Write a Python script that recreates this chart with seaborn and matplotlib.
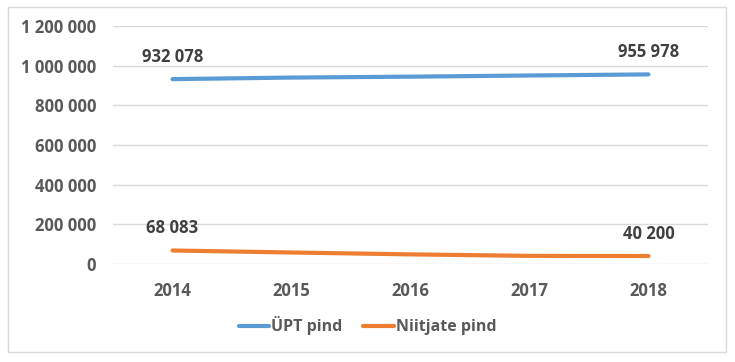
import pandas as pd
import matplotlib.pyplot as plt
import matplotlib.ticker as mticker
from matplotlib.patches import Rectangle
import seaborn as sns

aastad = [2014, 2015, 2016, 2017, 2018]
upt_pind = [932078, 940000, 944500, 950500, 955978]
niitjate_pind = [68083, 58000, 48500, 41000, 40200]
seeriad = ['ÜPT pind', 'Niitjate pind']
varvid = ['#5B9BD5', '#ED7D31']

df = pd.DataFrame({
    'aasta': [str(a) for a in aastad] * 2,
    'pind': upt_pind + niitjate_pind,
    'seeria': [seeriad[0]] * len(aastad) + [seeriad[1]] * len(aastad),
})

sns.set_style('white')
plt.rcParams['font.family'] = ['Open Sans', 'DejaVu Sans']
tekst = '#595959'

fig = plt.figure(figsize=(7.35, 3.62), dpi=100)
fig.patches.append(Rectangle((8 / 735, 1 - 352 / 362), 718 / 735, 345 / 362,
                             transform=fig.transFigure, fill=False,
                             edgecolor='#d9d9d9', linewidth=1))
ax = fig.add_axes([113 / 735, 1 - 264 / 362, 595 / 735, 238 / 362])

sns.lineplot(data=df, x='aasta', y='pind', hue='seeria', palette=varvid,
             linewidth=3, ax=ax, sort=False, legend=True)

ax.set_ylim(0, 1200000)
ax.set_xlim(-0.5, 4.5)
ax.yaxis.set_major_locator(mticker.MultipleLocator(200000))
ax.yaxis.set_major_formatter(mticker.FuncFormatter(lambda v, p: f'{int(v):,}'.replace(',', ' ')))
ax.grid(axis='y', color='#d9d9d9', linewidth=1)
ax.set_axisbelow(True)
for s in ax.spines.values():
    s.set_visible(False)
ax.tick_params(axis='both', length=0, labelsize=12, labelcolor=tekst)
ax.tick_params(axis='x', pad=13)
ax.tick_params(axis='y', pad=12)
for lab in ax.get_xticklabels() + ax.get_yticklabels():
    lab.set_fontweight('bold')
ax.set_xlabel('')
ax.set_ylabel('')

for vals in (upt_pind, niitjate_pind):
    for i in (0, len(aastad) - 1):
        ax.annotate(f'{vals[i]:,}'.replace(',', ' '), (i, vals[i]), xytext=(0, 16),
                    textcoords='offset points', ha='center', va='center',
                    fontsize=12, fontweight='bold', color='#404040')

ax.legend(loc='center', bbox_to_anchor=(0.5, 1 - 326 / 362), bbox_transform=fig.transFigure,
          ncol=2, frameon=False, handlelength=1.9, handletextpad=0.15, columnspacing=1.3,
          prop={'size': 11.5, 'weight': 'bold'}, labelcolor=tekst)

fig.savefig('out.png', dpi=100)
